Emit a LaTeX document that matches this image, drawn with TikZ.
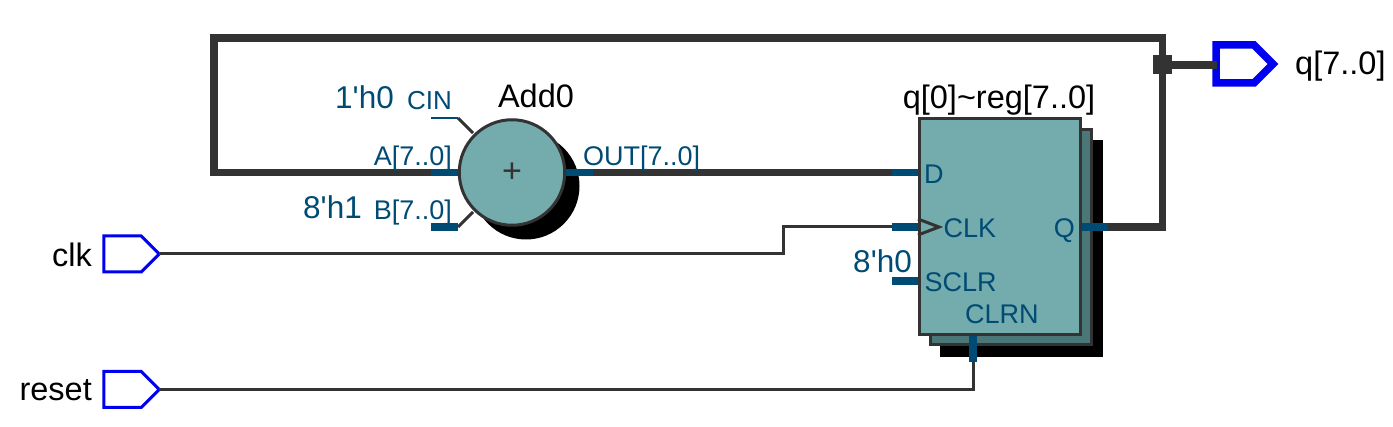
\documentclass[tikz,border=0pt]{standalone}
\usepackage{fontspec}
\setmainfont{Liberation Sans}
\usetikzlibrary{shapes.symbols}
\definecolor{wire}{HTML}{333333}
\definecolor{pin}{HTML}{004B73}
\definecolor{body}{HTML}{74ABAD}
\definecolor{bodyb}{HTML}{4A7878}
\definecolor{port}{HTML}{0000F0}
\newcommand{\fs}[1]{\fontsize{#1}{#1}\selectfont}
\newcommand{\apos}{\textquotesingle}
\tikzset{
  x=1pt,y=-1pt,
  thinwire/.style={draw=wire,line width=3pt},
  thickwire/.style={draw=wire,line width=7.6pt},
  pinthick/.style={draw=pin,line width=7.6pt},
  pinthin/.style={draw=pin,line width=2.8pt},
  inport/.style={signal,signal to=east,signal pointer angle=90,draw=port,line width=3pt,fill=white,
    minimum width=55.5pt,minimum height=36pt,inner sep=0pt,outer sep=0pt},
  outport/.style={signal,signal to=east,signal pointer angle=90,draw=port,line width=7.5pt,fill=white,
    minimum width=57pt,minimum height=38pt,inner sep=0pt,outer sep=0pt},
  blk/.style={font=\fs{32.5},text=black,inner sep=0pt,anchor=base},
  pinlabel/.style={font=\fs{27},text=pin,inner sep=0pt},
  constlabel/.style={font=\fs{31.5},text=pin,inner sep=0pt},
  ioname/.style={font=\fs{32.5},text=black,inner sep=0pt},
  boxbody/.style={draw=wire,line width=3pt,inner sep=0pt,outer sep=0pt},
}
\begin{document}
\begin{tikzpicture}
\useasboundingbox (0,0) rectangle (1393,427);
% shadows and bodies
\fill[black] (940,140) rectangle (1103,357);
\node[boxbody,fill=bodyb,minimum width=161pt,minimum height=215pt] (regb) at (1010.5,237.5) {};
\fill[black] (526,186) circle (53.5);
\node[boxbody,fill=body,circle,minimum size=105.5pt] (add) at (512,172.5) {};
\node[font=\fs{34},text=wire,inner sep=0pt] (plus) at (512,172.5) {+};
\node[boxbody,fill=body,minimum width=161pt,minimum height=216pt] (reg) at (999.5,226.7) {};
% ports
\node[inport] (clk) at (122.5,254) {};
\node[inport] (reset) at (122.5,389.5) {};
\node[outport] (q) at (1235,64) {};
\node[fill=wire,minimum size=19pt,inner sep=0pt] (jn) at (1162.5,65) {};
% coordinates of pins
\coordinate (aout) at (431,172.5);
\coordinate (ain) at (458,172.5);
\coordinate (bout) at (431,227);
\coordinate (bin) at (458,227);
\coordinate (cout) at (431,118);
\coordinate (cin) at (458,118);
\coordinate (oin) at (566,172.5);
\coordinate (oout) at (593,172.5);
\coordinate (dout) at (892,172.5);
\coordinate (din) at (918,172.5);
\coordinate (clkout) at (892,227);
\coordinate (clkin) at (918,227);
\coordinate (sout) at (892,281);
\coordinate (sin) at (918,281);
\coordinate (qin) at (1082,227);
\coordinate (qout) at (1108,227);
\coordinate (rin) at (973,336);
\coordinate (rout) at (973,362);
\coordinate (qwire) at (1217,65);
% wires
\draw[thickwire] (aout) -- (214,172.5) -- (214,38) -- (1162.5,38) -- (jn.center) -- (1162.5,227) -- (qout);
\draw[thickwire] (jn.center) -- (qwire);
\draw[thickwire] (oout) -- (dout);
\draw[thinwire] (clk.east) -- (783,254) -- (783,227) -- (clkout);
\draw[thinwire] (reset.east) -- (973,389.5) -- (rout);
\draw[thinwire] (bin) -- (473,212);
\draw[thinwire] (cin) -- (473,133);
% pin stubs
\draw[pinthick] (aout) -- (ain);
\draw[pinthick] (bout) -- (bin);
\draw[pinthin] (cout) -- (cin);
\draw[pinthick] (oin) -- (oout);
\draw[pinthick] (dout) -- (din);
\draw[pinthick] (clkout) -- (clkin);
\draw[pinthick] (sout) -- (sin);
\draw[pinthick] (qin) -- (qout);
\draw[pinthick] (rin) -- (rout);
\draw[draw=wire,line width=3pt] (918,219) -- (939,227) -- (918,235);
% labels
\node[blk] (addname) at (536,108) {Add0};
\node[blk] (regname) at (999,109) {q[0]\textasciitilde reg[7..0]};
\node[constlabel,anchor=base east] (c1) at (394,108.5) {1\apos h0};
\node[pinlabel,anchor=base east,font=\fs{26}] (lcin) at (452,110) {CIN};
\node[pinlabel,anchor=base east] (la) at (452,166) {A[7..0]};
\node[constlabel,anchor=base east] (c2) at (362,219) {8\apos h1};
\node[pinlabel,anchor=base east] (lb) at (452,219.5) {B[7..0]};
\node[pinlabel,anchor=base west] (lo) at (583,166) {OUT[7..0]};
\node[pinlabel,anchor=base west] (ld) at (924,183.5) {D};
\node[pinlabel,anchor=base west] (lc) at (943.5,238) {CLK};
\node[pinlabel,anchor=base east] (lq) at (1075,238) {Q};
\node[constlabel,anchor=base east] (c3) at (912,273) {8\apos h0};
\node[pinlabel,anchor=base west] (ls) at (924.5,292) {SCLR};
\node[pinlabel,anchor=base west] (lr) at (965,324) {CLRN};
\node[ioname,anchor=base east] (nclk) at (92,267) {clk};
\node[ioname,anchor=base east] (nreset) at (92,401) {reset};
\node[ioname,anchor=base west] (nq) at (1295,75) {q[7..0]};
\end{tikzpicture}
\end{document}
